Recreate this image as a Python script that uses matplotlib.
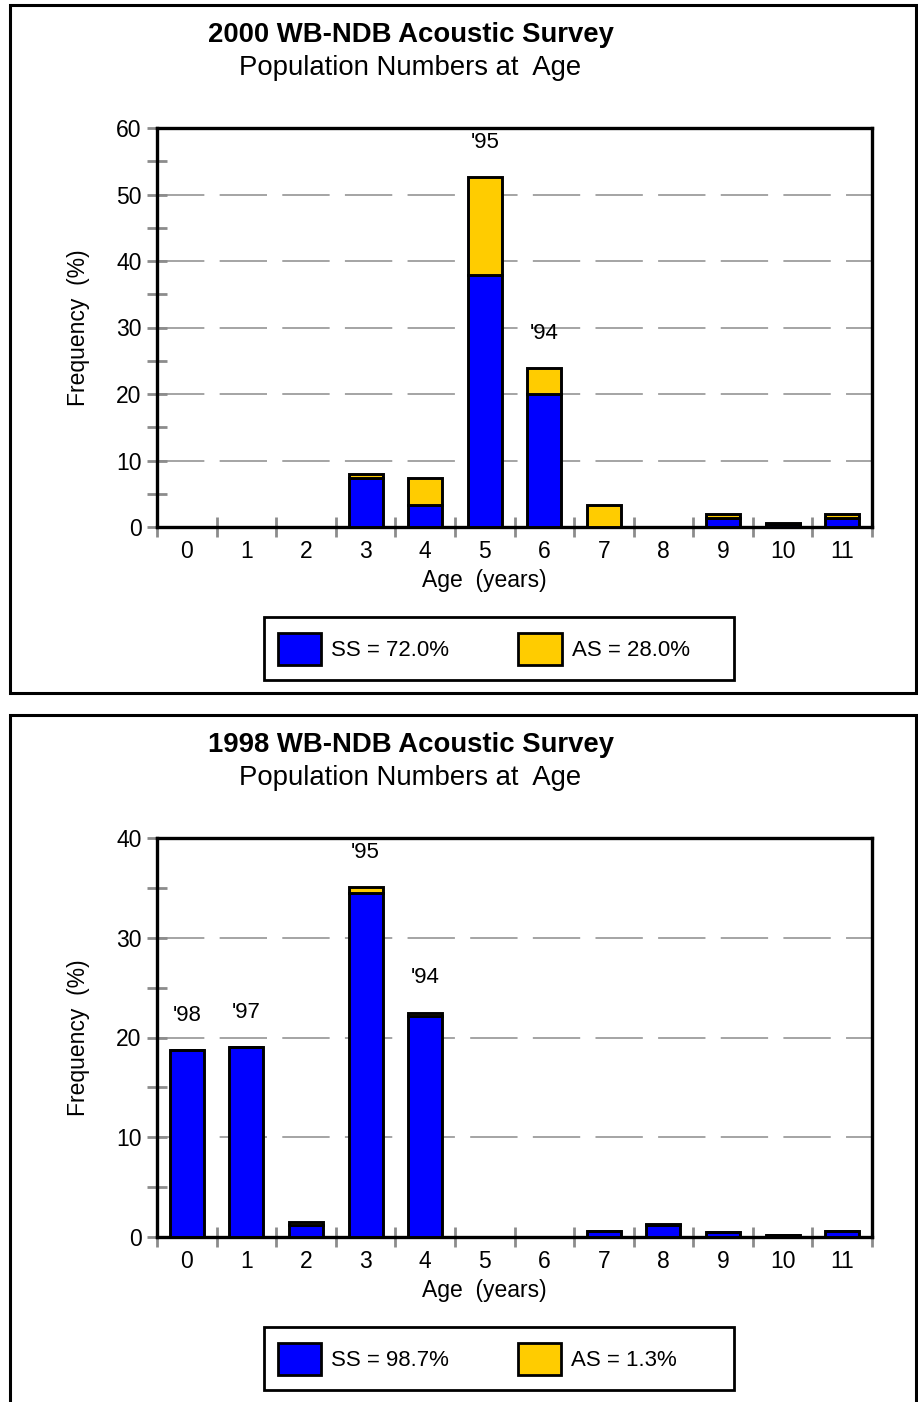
import numpy as np
import matplotlib
matplotlib.use('Agg')
import matplotlib.pyplot as plt
from matplotlib.patches import Rectangle
from matplotlib.ticker import MultipleLocator, FixedLocator

plt.rcParams['font.family'] = ['Liberation Sans', 'DejaVu Sans']

ages = list(range(12))

# 2000 survey, percent of numbers at age
ss_2000 = [0, 0, 0, 7.4, 3.3, 37.9, 20.0, 0, 0, 1.3, 0.5, 1.3]
as_2000 = [0, 0, 0, 0.6, 4.1, 14.7, 3.9, 3.3, 0, 0.6, 0.1, 0.6]
cohorts_2000 = {5: "'95", 6: "'94"}

# 1998 survey
ss_1998 = [18.7, 19.0, 1.2, 34.5, 22.2, 0, 0, 0.6, 1.2, 0.5, 0.2, 0.6]
as_1998 = [0, 0, 0.3, 0.6, 0.3, 0, 0, 0, 0.1, 0, 0, 0]
cohorts_1998 = {0: "'98", 1: "'97", 3: "'95", 4: "'94"}

BLUE = '#0000ff'
GOLD = '#ffcc00'
GREY = '#8c8c8c'
W, H = 918, 1402

fig = plt.figure(figsize=(W / 100, H / 100), dpi=100)


def fy(py):
    return 1 - py / H


def frame(x0, y0, x1, y1, lw):
    # plain black box in pixel coordinates (top-left origin)
    fig.patches.append(Rectangle((x0 / W, fy(y1)), (x1 - x0) / W, (y1 - y0) / H,
                                 transform=fig.transFigure, fill=False, ec='black',
                                 lw=lw, zorder=0))


def panel(top_px, ymax, ss, as_, cohorts, year, ss_pct, as_pct, box_bottom):
    frame(10, top_px, 916, box_bottom, 2.2)

    ax_top, ax_bot = top_px + 123, top_px + 522
    ax = fig.add_axes([157 / W, fy(ax_bot), (872 - 157) / W, (ax_bot - ax_top) / H])

    x = np.array(ages)
    b1 = ax.bar(x, ss, width=0.57, color=BLUE, edgecolor='black', linewidth=2.1, zorder=3)
    b2 = ax.bar(x, as_, width=0.57, bottom=ss, color=GOLD, edgecolor='black',
                linewidth=2.1, zorder=3)

    for age, lab in cohorts.items():
        ax.annotate(lab, (age, ss[age] + as_[age]), xytext=(0, 25), textcoords='offset points',
                    ha='center', va='center', fontsize=16)

    ax.set_xlim(-0.5, 11.5)
    ax.set_ylim(0, ymax)
    ax.xaxis.set_major_locator(FixedLocator(ages))
    ax.xaxis.set_minor_locator(FixedLocator(np.arange(-0.5, 12, 1)))
    ax.yaxis.set_major_locator(MultipleLocator(10))
    ax.yaxis.set_minor_locator(MultipleLocator(5))
    ax.tick_params(axis='x', which='major', length=0, pad=9, labelsize=16.5)
    ax.tick_params(axis='x', which='minor', direction='inout', length=15, width=2.0,
                   color=GREY)
    ax.tick_params(axis='y', which='both', direction='inout', length=14, width=2.0,
                   color=GREY, labelsize=16.5, pad=4)

    for v in range(10, ymax, 10):
        ax.axhline(v, color=GREY, lw=1.1, ls=(0, (31, 10)), zorder=1)

    for s in ax.spines.values():
        s.set_linewidth(2.4)

    ax.set_xlabel('Age  (years)', fontsize=16.5, va='center')
    ax.xaxis.set_label_coords((484 - 157) / 715, -53 / 399)
    ax.set_ylabel('Frequency  (%)', fontsize=16.5, va='center')
    ax.yaxis.set_label_coords((78 - 157) / 715, 0.5)

    fig.text(411 / W, fy(top_px + 30), f'{year} WB-NDB Acoustic Survey', ha='center',
             va='center', fontsize=19.8, fontweight='bold')
    fig.text(410 / W, fy(top_px + 63), 'Population Numbers at  Age', ha='center',
             va='center', fontsize=19.8)

    # legend box drawn separately so it keeps the wide right margin
    frame(264, top_px + 612, 734, top_px + 675, 2.0)
    leg = ax.legend([b1, b2], [f'SS = {ss_pct}', f'AS = {as_pct}'], loc='center left',
                    bbox_to_anchor=(278 / W, fy(top_px + 644)), bbox_transform=fig.transFigure,
                    ncol=2, fontsize=16, frameon=False,
                    handlelength=1.95, handleheight=1.8, columnspacing=3.1, handletextpad=0.45,
                    borderpad=0, borderaxespad=0)
    for h in leg.legend_handles:
        h.set_linewidth(2.0)
    return ax


panel(5, 60, ss_2000, as_2000, cohorts_2000, 2000, '72.0%', '28.0%', 693)
panel(715, 40, ss_1998, as_1998, cohorts_1998, 1998, '98.7%', '1.3%', 1420)

fig.savefig('out.png', dpi=100)
